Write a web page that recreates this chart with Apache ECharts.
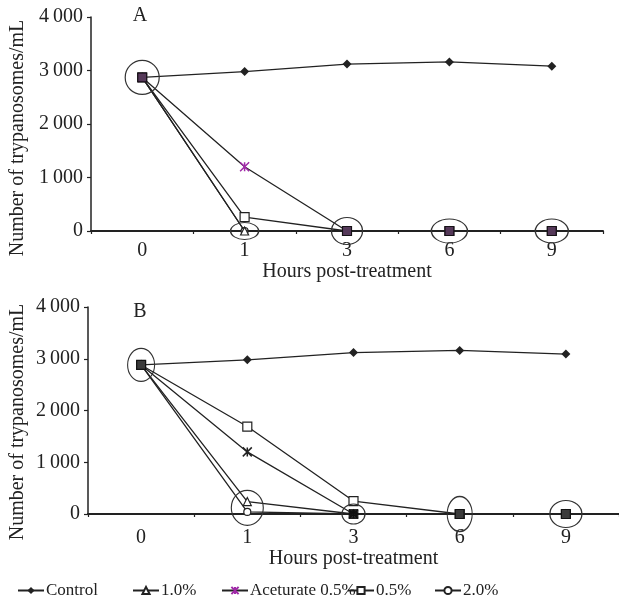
<!DOCTYPE html>
<html>
<head>
<meta charset="utf-8">
<script src="https://cdn.jsdelivr.net/npm/echarts@6/dist/echarts.min.js"></script>
<style>html,body{margin:0;padding:0;background:#fff;}#c{width:619px;height:608px;}</style>
</head>
<body>
<div id="c"></div>
<script>
// ---- data ----
const categories = ['0', '1', '3', '6', '9'];
const yTicks = [0, 1000, 2000, 3000, 4000];
const seriesNames = ['Control', '1.0%', 'Aceturate 0.5%', '0.5%', '2.0%'];

// Panel A
const controlA = [2870, 2980, 3120, 3160, 3080];
const pct10A   = [2870, 0, 0, 0, 0];
const acetA    = [2870, 1200, 0, 0, 0];
const pct05A   = [2870, 260, 0, 0, 0];
const pct20A   = [2870, 0, 0, 0, 0];
const ringsA   = [[0, 2870], [1, 0], [2, 0], [3, 0], [4, 0]];

// Panel B
const controlB = [2880, 2980, 3120, 3160, 3090];
const pct10B   = [2880, 240, 0, 0, 0];
const acetB    = [2880, 1200, 0, 0, 0];
const pct05B   = [2880, 1690, 250, 0, 0];
const pct20B   = [2880, 40, 0, 0, 0];
const ringsB   = [[0, 2880], [1, 120], [2, 0], [3, 0], [4, 0]];

// ---- styling ----
const FONT = "'Liberation Serif', 'Times New Roman', serif";
const INK = '#222';
const ringSizesA = [[34, 34], [28, 17], [31, 27], [36, 24], [33, 24]];
const ringSizesB = [[27, 33], [32, 35], [23, 20], [25, 35], [32, 27]];
const asterisk = 'path://M0,0L10,10M10,0L0,10M5,0L5,10';

function fmt(v) {
  return v >= 1000 ? String(v).replace(/(\d)(\d{3})$/, '$1\u2009$2') : String(v);
}

function overlapPoints(treatments) {
  const out = [];
  for (let i = 0; i < categories.length; i++) {
    const counts = {};
    treatments.forEach(t => { counts[t[i]] = (counts[t[i]] || 0) + 1; });
    for (const k in counts) if (counts[k] >= 3) out.push([i, Number(k)]);
  }
  return out;
}

function panelSeries(idx, d, acetColor, overlapColor, rings, ringSizes) {
  const base = {
    type: 'line', xAxisIndex: idx, yAxisIndex: idx,
    lineStyle: { color: INK, width: 1.3 },
    animation: false
  };
  const hollow = { color: '#fff', borderColor: INK, borderWidth: 1.2 };
  return [
    Object.assign({}, base, { name: seriesNames[0], data: d[0], symbol: 'diamond', symbolSize: 9,
      itemStyle: { color: INK } }),
    Object.assign({}, base, { name: seriesNames[4], data: d[4], symbol: 'circle', symbolSize: 7,
      itemStyle: hollow, z: 2,
      markPoint: {
        silent: true, animation: false,
        label: { show: false },
        data: rings.map((r, i) => ({
          coord: r, symbol: 'circle', symbolSize: ringSizes[i],
          itemStyle: { color: 'rgba(0,0,0,0)', borderColor: '#333', borderWidth: 1.2 }
        }))
      } }),
    Object.assign({}, base, { name: seriesNames[1], data: d[1], symbol: 'triangle', symbolSize: 8,
      itemStyle: hollow, z: 3 }),
    Object.assign({}, base, { name: seriesNames[2], data: d[2], symbol: asterisk, symbolSize: 9,
      itemStyle: { color: acetColor, borderColor: acetColor, borderWidth: 1.5 }, z: 3 }),
    Object.assign({}, base, { name: seriesNames[3], data: d[3], symbol: 'rect', symbolSize: 9,
      itemStyle: hollow, z: 3 }),
    {
      type: 'scatter', name: 'overlap', xAxisIndex: idx, yAxisIndex: idx,
      data: overlapPoints([d[1], d[2], d[3], d[4]]),
      symbol: 'rect', symbolSize: 9, z: 5, animation: false,
      itemStyle: { color: overlapColor, borderColor: '#111', borderWidth: 1 }
    }
  ];
}

const grids = [
  { left: 91, right: 16, top: 17, height: 214 },
  { left: 88, right: 0, top: 307, height: 207 }
];
const labelMargins = [10, 14];
const nameGaps = [28, 33];

function xAxis(i) {
  return {
    type: 'category', gridIndex: i, data: categories, boundaryGap: true,
    axisLine: { lineStyle: { color: INK, width: 2 } },
    axisTick: { show: true, length: 3, lineStyle: { color: INK, width: 1.2 } },
    axisLabel: { fontFamily: FONT, fontSize: 20, color: INK, margin: labelMargins[i] },
    name: 'Hours post-treatment', nameLocation: 'middle', nameGap: nameGaps[i],
    nameTextStyle: { fontFamily: FONT, fontSize: 20, color: INK },
    splitLine: { show: false }
  };
}
function yAxis(i) {
  return {
    type: 'value', gridIndex: i, min: yTicks[0], max: yTicks[yTicks.length - 1], interval: 1000,
    axisLine: { show: true, lineStyle: { color: INK, width: 1.5 } },
    axisTick: { show: true, length: 4, lineStyle: { color: INK, width: 1.2 } },
    axisLabel: { fontFamily: FONT, fontSize: 20, color: INK, margin: 8, formatter: fmt },
    splitLine: { show: false }
  };
}

const legendLefts = [17, 132, 221, 347, 434];
const legends = seriesNames.map((n, i) => ({
  data: [n], left: legendLefts[i], top: 582, itemWidth: 26, itemHeight: 9, itemGap: 2,
  padding: 0, selectedMode: false,
  textStyle: { fontFamily: FONT, fontSize: 17, color: INK, padding: [0, 0, 0, -3] }
}));

const option = {
  backgroundColor: '#fff',
  animation: false,
  grid: grids,
  xAxis: [xAxis(0), xAxis(1)],
  yAxis: [yAxis(0), yAxis(1)],
  legend: legends,
  graphic: [
    { type: 'text', x: 18, y: 138, rotation: Math.PI / 2,
      style: { text: 'Number of trypanosomes/mL', font: '20px ' + FONT, fill: INK, align: 'center', verticalAlign: 'middle' } },
    { type: 'text', x: 18, y: 422, rotation: Math.PI / 2,
      style: { text: 'Number of trypanosomes/mL', font: '20px ' + FONT, fill: INK, align: 'center', verticalAlign: 'middle' } },
    { type: 'text', x: 140, y: 16,
      style: { text: 'A', font: '20px ' + FONT, fill: INK, align: 'center', verticalAlign: 'middle' } },
    { type: 'text', x: 140, y: 312,
      style: { text: 'B', font: '20px ' + FONT, fill: INK, align: 'center', verticalAlign: 'middle' } }
  ],
  series: [].concat(
    panelSeries(0, [controlA, pct10A, acetA, pct05A, pct20A], '#a02aa8', '#2a0830', ringsA, ringSizesA),
    panelSeries(1, [controlB, pct10B, acetB, pct05B, pct20B], INK, '#0a0a0a', ringsB, ringSizesB)
  )
};

const chart = echarts.init(document.getElementById('c'), null, { renderer: 'canvas' });
chart.setOption(option);
</script>
</body>
</html>
